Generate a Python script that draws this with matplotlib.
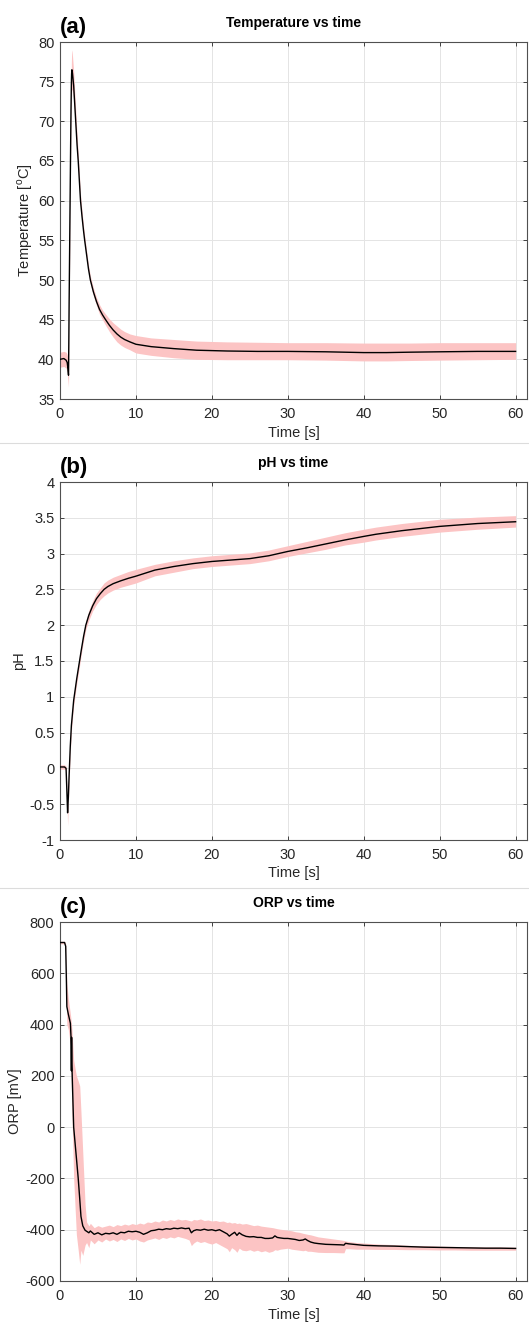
import matplotlib
matplotlib.use('Agg')
import matplotlib.pyplot as plt
from matplotlib.ticker import MultipleLocator, FuncFormatter
from matplotlib.lines import Line2D

plt.rcParams['font.family'] = ['Liberation Sans', 'DejaVu Sans']
plt.rcParams['axes.unicode_minus'] = False

# ---- temperature (a)
temp_t = [0, 0.5, 0.8, 0.95, 1.05, 1.12, 1.16, 1.2, 1.25, 1.3,
          1.35, 1.4, 1.45, 1.5, 1.53, 1.56, 1.6, 1.65, 1.8, 1.95,
          2.1, 2.25, 2.4, 2.55, 2.7, 2.9, 3.1, 3.25, 3.5, 3.75,
          4.0, 4.4, 4.8, 5.2, 5.6, 6.0, 6.5, 7.0, 7.5, 8.0,
          8.5, 9.2, 10, 12, 15, 18, 22, 26, 30, 35,
          40, 43, 46, 50, 55, 60]
temp_mean = [40, 40.1, 39.9, 39.6, 38.8, 38, 42, 47, 52, 57,
             62, 67, 71.5, 74.8, 76, 76.5, 76.4, 76, 74.5, 72,
             69.5, 67, 65, 62.5, 60, 58, 56.2, 55, 53.2, 51.4,
             50, 48.5, 47.3, 46.3, 45.6, 45, 44.3, 43.7, 43.2, 42.8,
             42.5, 42.2, 41.9, 41.6, 41.35, 41.15, 41.05, 41.0, 41.0, 40.95,
             40.85, 40.85, 40.9, 40.95, 41.0, 41.0]
temp_hi = [40.9, 41.0, 40.9, 40.6, 39.8, 39.2, 43.5, 48.5, 54, 59,
           64, 69, 74, 77.5, 78.6, 79, 78.8, 78.2, 76.3, 73.6,
           70.9, 68.3, 66, 63.4, 60.8, 58.7, 56.8, 55.6, 53.7, 51.9,
           50.5, 49.0, 47.8, 46.9, 46.2, 45.7, 45.1, 44.6, 44.2, 43.8,
           43.5, 43.2, 43.0, 42.7, 42.5, 42.3, 42.2, 42.15, 42.1, 42.1,
           42.05, 42.05, 42.05, 42.1, 42.1, 42.1]
temp_lo = [39.0, 39.1, 38.9, 38.4, 37.3, 36.5, 40.5, 45.5, 50, 55,
           60, 65, 69, 72, 73.6, 74, 74, 73.8, 72.7, 70.4,
           68.1, 65.7, 64, 61.6, 59.2, 57.3, 55.6, 54.4, 52.7, 50.9,
           49.5, 48.0, 46.8, 45.7, 45.0, 44.3, 43.5, 42.8, 42.2, 41.8,
           41.5, 41.2, 40.8, 40.5, 40.2, 40.0, 39.95, 39.95, 39.95, 39.9,
           39.8, 39.8, 39.85, 39.9, 39.95, 40.0]

# ---- pH (b)
ph_t = [0, 0.6, 0.8, 0.9, 1.0, 1.1, 1.2, 1.35, 1.5, 1.8,
        2.0, 2.2, 2.5, 2.8, 3.1, 3.4, 3.8, 4.3, 4.8, 5.3,
        5.8, 6.3, 7, 8, 9, 10, 12.5, 15, 17.5, 20,
        22.5, 25, 27.5, 30, 32.5, 35, 37.5, 40, 41.6, 45,
        50, 55, 60]
ph_mean = [0.02, 0.02, 0.0, -0.3, -0.62, -0.4, -0.1, 0.3, 0.6, 0.95,
           1.1, 1.25, 1.45, 1.65, 1.84, 2.0, 2.14, 2.27, 2.37, 2.44,
           2.5, 2.54, 2.58, 2.62, 2.655, 2.685, 2.77, 2.82, 2.86, 2.89,
           2.91, 2.93, 2.97, 3.03, 3.08, 3.135, 3.19, 3.24, 3.27, 3.32,
           3.38, 3.42, 3.445]
ph_hi = [0.05, 0.05, 0.03, -0.25, -0.55, -0.3, 0.0, 0.4, 0.68, 1.02,
         1.17, 1.32, 1.52, 1.71, 1.9, 2.06, 2.21, 2.34, 2.45, 2.52,
         2.59, 2.63, 2.67, 2.71, 2.75, 2.78, 2.85, 2.9, 2.94, 2.97,
         2.99, 3.01, 3.05, 3.11, 3.17, 3.23, 3.29, 3.34, 3.37, 3.42,
         3.48, 3.51, 3.53]
ph_lo = [-0.01, -0.01, -0.03, -0.35, -0.8, -0.5, -0.2, 0.2, 0.52, 0.88,
         1.03, 1.18, 1.38, 1.59, 1.78, 1.94, 2.07, 2.2, 2.29, 2.36,
         2.41, 2.45, 2.49, 2.53, 2.56, 2.59, 2.69, 2.74, 2.79, 2.82,
         2.84, 2.86, 2.9, 2.96, 3.01, 3.06, 3.12, 3.16, 3.19, 3.24,
         3.3, 3.34, 3.37]

# ---- ORP (c)
orp_t = [0, 0.6, 0.75, 0.85, 0.9, 1.1, 1.37, 1.45, 1.5, 1.53,
         1.57, 1.8, 2.16, 2.4, 2.6, 2.76, 3.0, 3.3, 3.5, 3.8,
         4.0, 4.5, 5, 5.5, 6, 6.5, 7, 7.5, 8, 8.5,
         9, 9.5, 10, 10.5, 11, 11.5, 12, 12.5, 13, 13.5,
         14, 14.5, 15, 15.5, 16, 16.5, 17, 17.3, 17.6, 18,
         18.5, 19, 19.5, 20, 20.5, 21, 21.5, 22, 22.3, 22.6,
         23, 23.3, 23.6, 24, 24.5, 25, 25.5, 26, 26.5, 27,
         27.5, 28, 28.3, 28.6, 29, 29.5, 30, 30.5, 31, 31.5,
         32, 32.3, 32.6, 33, 33.5, 34, 35, 36, 37, 37.4,
         37.6, 38, 39, 40, 42, 44, 46, 48, 50, 52,
         54, 56, 58, 60]
orp_mean = [720, 720, 705, 560, 470, 440, 405, 350, 220, 350,
            240, 0, -120, -200, -280, -348, -385, -402, -406, -412,
            -405, -418, -412, -420, -414, -416, -412, -418, -410, -412,
            -406, -408, -406, -410, -418, -412, -404, -402, -398, -400,
            -396, -398, -394, -396, -393, -396, -394, -412, -404, -400,
            -402, -398, -402, -400, -404, -400, -408, -416, -425, -418,
            -410, -422, -412, -420, -426, -428, -427, -430, -430, -434,
            -434, -432, -424, -430, -432, -434, -434, -436, -438, -442,
            -440, -436, -442, -448, -452, -454, -457, -458, -459, -460,
            -453, -455, -458, -461, -463, -464, -466, -468, -469, -470,
            -471, -472, -472, -473]
orp_hi = [725, 725, 715, 640, 560, 500, 440, 420, 400, 395,
          380, 260, 200, 180, 160, 60, -100, -300, -370, -385,
          -375, -392, -384, -390, -386, -382, -388, -380, -384, -378,
          -382, -376, -380, -374, -378, -370, -372, -366, -370, -362,
          -366, -360, -364, -358, -362, -360, -364, -366, -360, -362,
          -358, -364, -362, -366, -364, -368, -366, -372, -370, -374,
          -372, -376, -374, -378, -376, -380, -384, -382, -386, -388,
          -390, -392, -394, -396, -398, -400, -402, -404, -408, -410,
          -414, -416, -418, -420, -424, -428, -432, -436, -440, -442,
          -444, -446, -450, -452, -456, -458, -461, -462, -464, -465,
          -466, -467, -467, -468]
orp_lo = [715, 715, 690, 480, 400, 380, 320, 250, 150, 100,
          60, -200, -420, -480, -535, -480, -500, -460, -450, -470,
          -440, -455, -440, -448, -436, -444, -438, -446, -436, -442,
          -434, -440, -436, -444, -448, -440, -436, -432, -438, -430,
          -434, -428, -432, -426, -430, -434, -440, -462, -452, -444,
          -450, -446, -452, -456, -450, -458, -466, -474, -486, -470,
          -478, -488, -472, -480, -482, -478, -484, -480, -486, -482,
          -488, -484, -478, -480, -476, -474, -472, -476, -478, -480,
          -482, -480, -484, -484, -486, -488, -489, -489, -490, -490,
          -474, -474, -476, -476, -477, -477, -478, -478, -479, -479,
          -480, -480, -480, -480]

panels = [
    ('(a)', 'Temperature vs time', 'Temperature [$^\\mathregular{o}$C]',
     temp_t, temp_mean, temp_lo, temp_hi, (35, 80), 5),
    ('(b)', 'pH vs time', 'pH',
     ph_t, ph_mean, ph_lo, ph_hi, (-1, 4), 0.5),
    ('(c)', 'ORP vs time', 'ORP [mV]',
     orp_t, orp_mean, orp_lo, orp_hi, (-600, 800), 200),
]

W, H = 529, 1325
fig = plt.figure(figsize=(W / 100, H / 100), dpi=100)
# axes boxes in pixels: (top, bottom)
boxes = [(42, 399), (482, 840), (922, 1281)]
left, right = 60, 527
txt = '#262626'

for (lab, title, ylab, t, m, lo, hi, ylim, ystep), (top, bot) in zip(panels, boxes):
    ax = fig.add_axes([left / W, 1 - bot / H, (right - left) / W, (bot - top) / H])
    ax.fill_between(t, lo, hi, color='#fcc4c4', lw=0, zorder=2)
    ax.plot(t, m, color='black', lw=1.0, zorder=3)
    ax.set_xlim(0, 61.5)
    ax.set_ylim(*ylim)
    ax.xaxis.set_major_locator(MultipleLocator(10))
    ax.yaxis.set_major_locator(MultipleLocator(ystep))
    ax.yaxis.set_major_formatter(FuncFormatter(lambda v, p: '%g' % v))
    ax.grid(True, color='#e4e4e4', lw=0.7, zorder=0)
    ax.set_axisbelow(True)
    ax.tick_params(direction='in', length=3, width=0.7, top=True, right=True,
                   labelsize=10.5, colors='#404040', labelcolor=txt)
    ax.tick_params(axis='x', pad=6)
    ax.tick_params(axis='y', pad=4)
    for s in ax.spines.values():
        s.set_color('#505050')
        s.set_linewidth(0.8)
    ax.set_xlabel('Time [s]', fontsize=10.5, color=txt, labelpad=3)
    ax.set_ylabel(ylab, fontsize=10.5, color=txt, labelpad=2)
    ax.set_title(title, fontsize=10, fontweight='bold', color='black', pad=11)
    ax.text(0.0, 1.01, lab, transform=ax.transAxes, fontsize=16,
            fontweight='bold', ha='left', va='bottom', color='black')

# faint separators between the stacked panels
for y in [443, 888]:
    fig.add_artist(Line2D([0, 1], [1 - y / H, 1 - y / H], color='#dcdcdc', lw=0.8))

fig.savefig('out.png', dpi=100)
